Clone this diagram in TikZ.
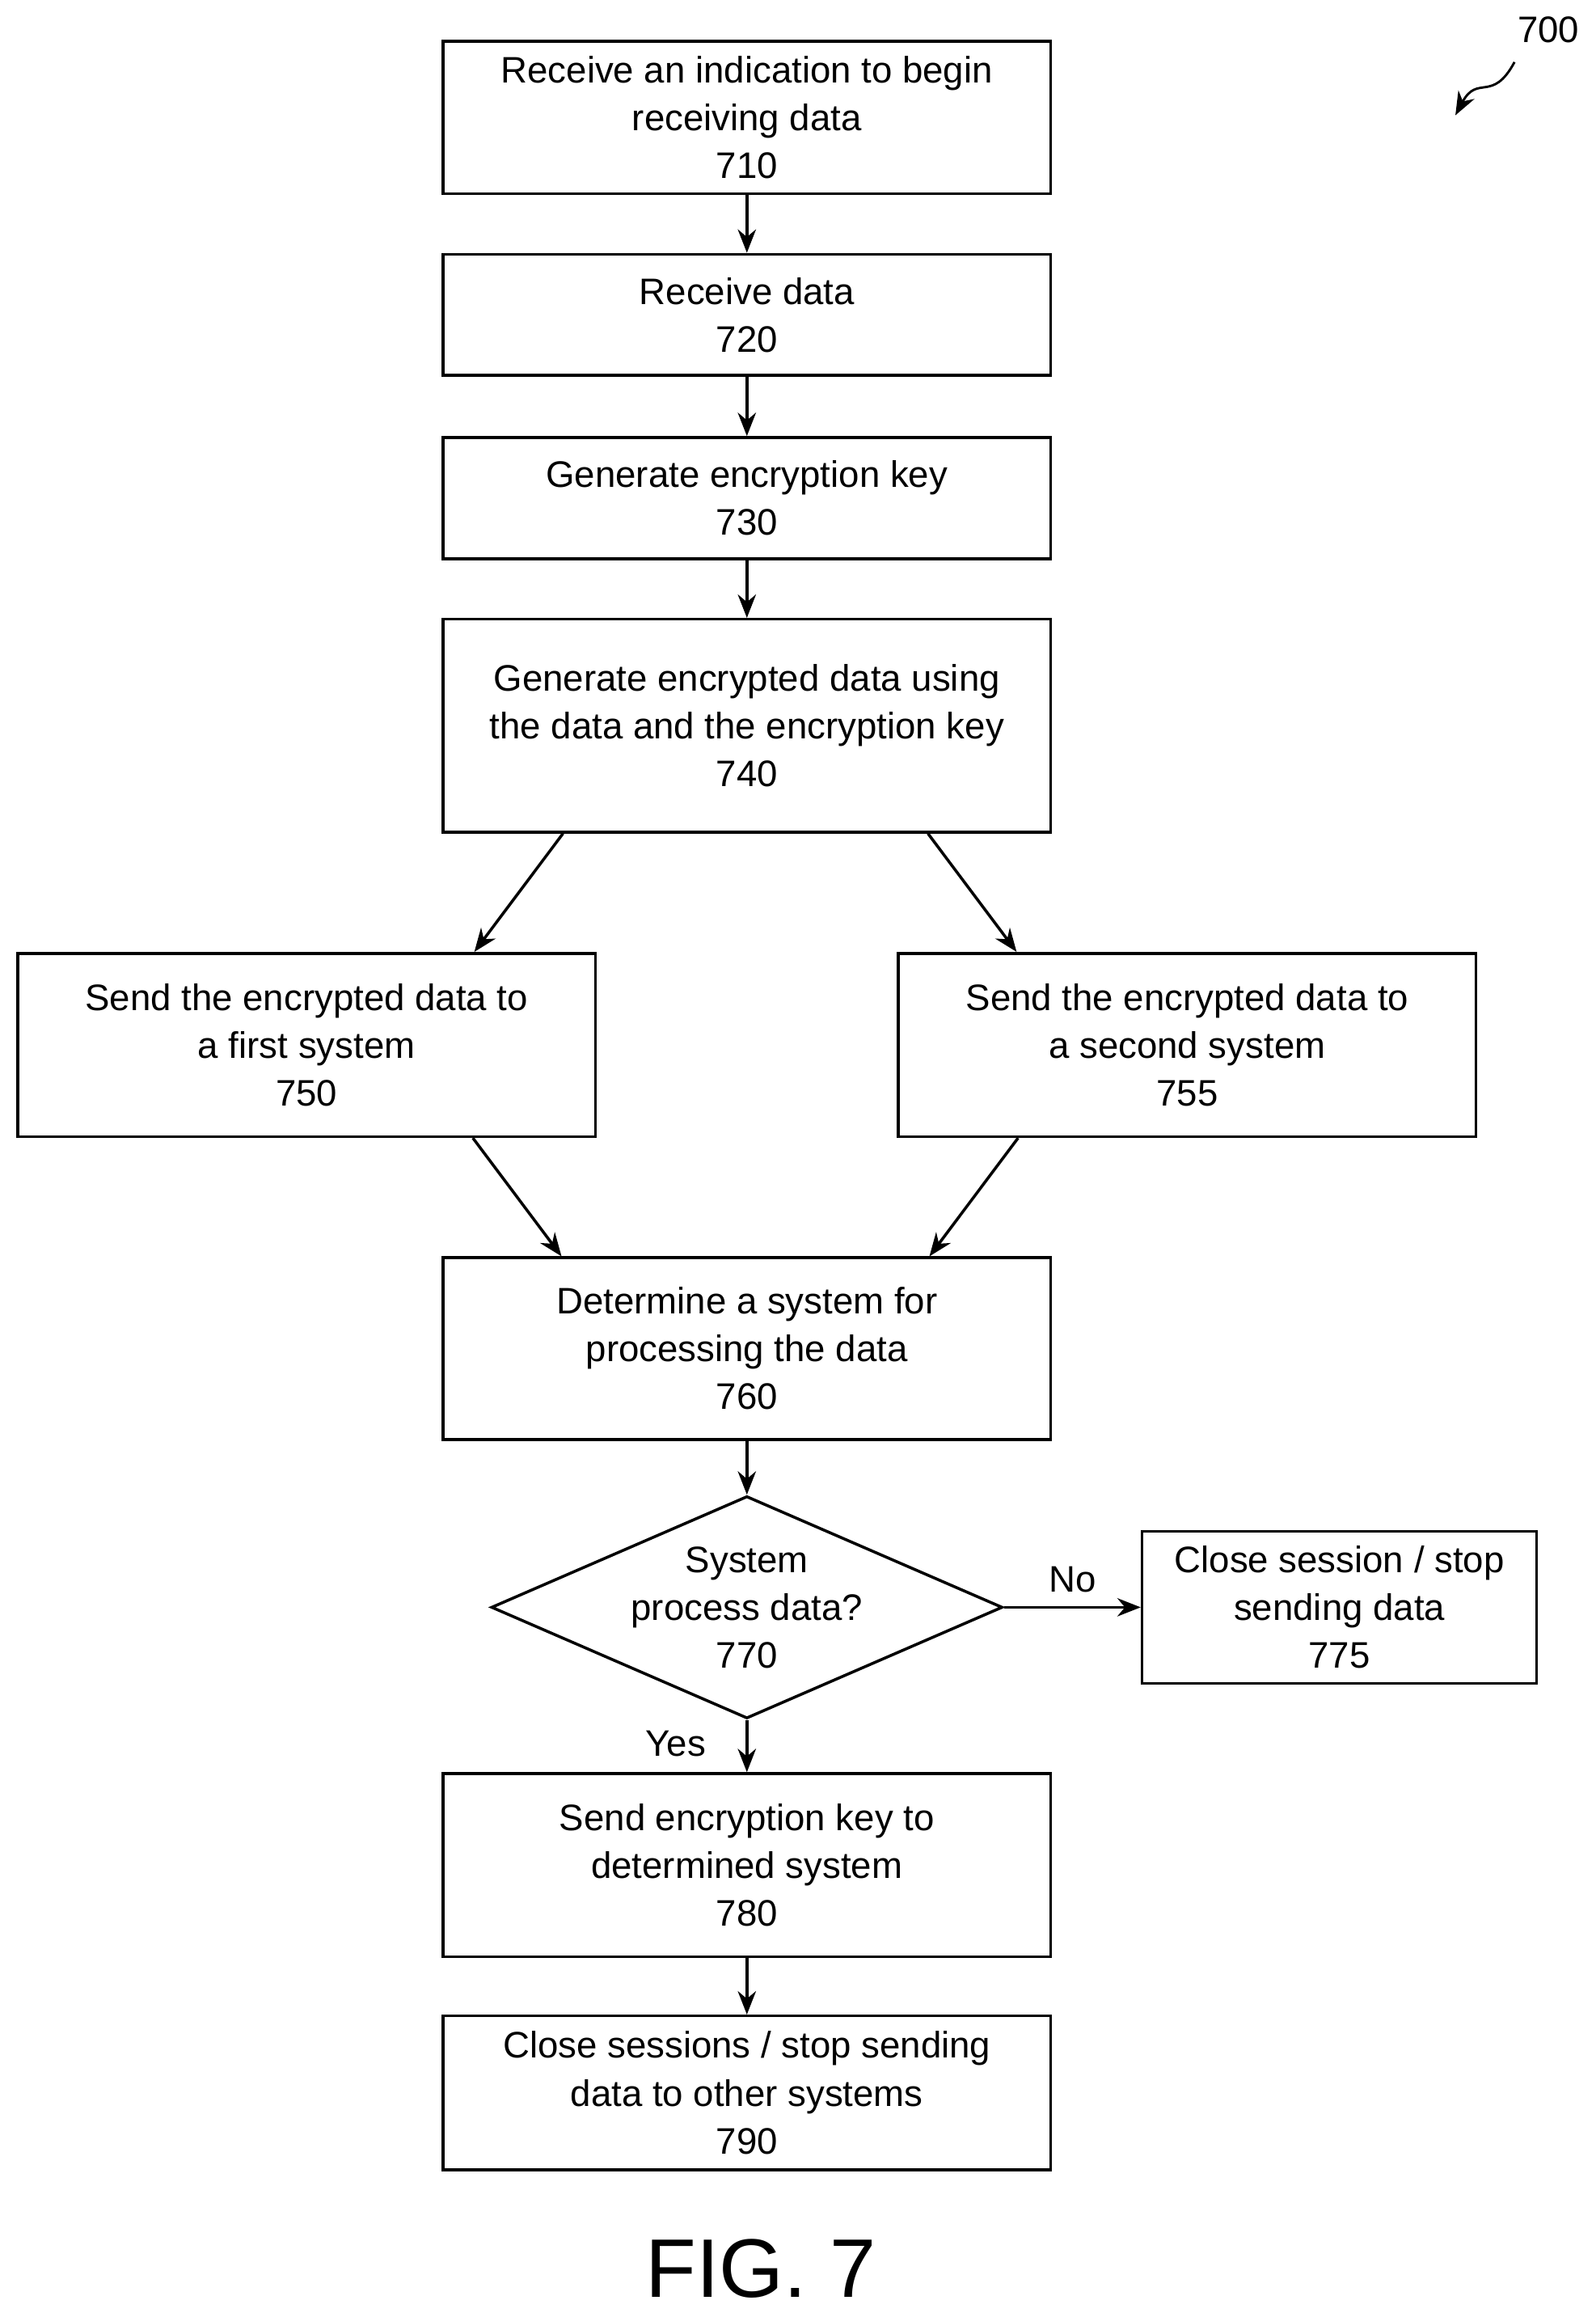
\documentclass[tikz,border=0pt]{standalone}
\usepackage{fontspec}
\setmainfont{Liberation Sans}
\usetikzlibrary{arrows.meta,shapes.geometric,calc}

\begin{document}
\begin{tikzpicture}[x=0.02cm, y=-0.02cm,
    every node/.style={font=\fontsize{14.2}{18.4}\selectfont},
    box/.style={draw, line width=1.1pt, align=center, inner sep=0pt},
    link/.style={line width=1.1pt, -{Stealth[length=9pt,width=7pt]}}]
    \useasboundingbox (0,0) rectangle (1080,1565);
    \node[box, minimum width=411*0.02cm, minimum height=103*0.02cm] (b710) at (505.5,79.5) {Receive an indication to begin\\receiving data\\710};
    \node[box, minimum width=411*0.02cm, minimum height=82*0.02cm] (b720) at (505.5,213) {Receive data\\720};
    \node[box, minimum width=411*0.02cm, minimum height=82*0.02cm] (b730) at (505.5,337) {Generate encryption key\\730};
    \node[box, minimum width=411*0.02cm, minimum height=144*0.02cm] (b740) at (505.5,491) {Generate encrypted data using\\the data and the encryption key\\740};
    \node[box, minimum width=391*0.02cm, minimum height=124*0.02cm] (b750) at (207.5,707) {Send the encrypted data to\\a first system\\750};
    \node[box, minimum width=391*0.02cm, minimum height=124*0.02cm] (b755) at (803.5,707) {Send the encrypted data to\\a second system\\755};
    \node[box, minimum width=411*0.02cm, minimum height=123*0.02cm] (b760) at (505.5,912.5) {Determine a system for\\processing the data\\760};
    \node[draw, line width=1.1pt, diamond, aspect=2.3, inner sep=0pt, align=center,
          minimum width=329*0.02cm, minimum height=143*0.02cm] (b770) at (505.5,1087.5) {System\\process data?\\770};
    \node[box, minimum width=267*0.02cm, minimum height=103*0.02cm] (b775) at (906.5,1087.5) {Close session / stop\\sending data\\775};
    \node[box, minimum width=411*0.02cm, minimum height=124*0.02cm] (b780) at (505.5,1262) {Send encryption key to\\determined system\\780};
    \node[box, minimum width=411*0.02cm, minimum height=104*0.02cm] (b790) at (505.5,1416) {Close sessions / stop sending\\data to other systems\\790};
    \node[font=\fontsize{32}{36}\selectfont] (fig) at (515,1535) {FIG. 7};
    \node (n700) at (1048,20) {700};
    \coordinate (tail700) at (1025,42);
    \coordinate (head700) at (985,78);

    \draw[link] (b710) -- (b720);
    \draw[link] (b720) -- (b730);
    \draw[link] (b730) -- (b740);
    \draw[link] ($(b740.south west)+(82,0)$) -- ($(b750.north west)+(310,0)$);
    \draw[link] ($(b740.south west)+(329,0)$) -- ($(b755.north west)+(81,0)$);
    \draw[link] ($(b750.south west)+(309,0)$) -- ($(b760.north west)+(81,0)$);
    \draw[link] ($(b755.south west)+(82,0)$) -- ($(b760.north west)+(330,0)$);
    \draw[link] (b760) -- (b770);
    \draw[link] (b770.east) -- node[above=2pt] {No} (b775.west);
    \draw[link] (b770.south) -- node[left=12pt, pos=0.45] {Yes} (b780.north);
    \draw[link] (b780) -- (b790);
    \draw[link, line width=0.9pt] (tail700) .. controls (1010,70) and (1000,50) .. (head700);
\end{tikzpicture}
\end{document}
